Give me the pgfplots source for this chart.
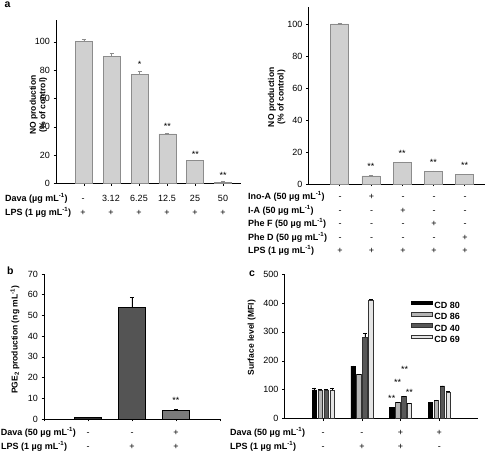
\documentclass[border=0pt]{standalone}
\usepackage{fontspec}
\setmainfont{Liberation Sans}
\usepackage{pgfplots}
\pgfplotsset{compat=1.18}
\definecolor{barA}{HTML}{D0D0D0}
\definecolor{edgeA}{HTML}{8C8C8C}
\definecolor{pgA}{HTML}{2E2E2E}
\definecolor{pgB}{HTML}{545454}
\definecolor{pgC}{HTML}{7A7A7A}
\definecolor{cdB}{HTML}{B4B4B4}
\definecolor{cdC}{HTML}{585858}
\definecolor{cdD}{HTML}{E4E4E4}
\newcommand\tf{\fontsize{9}{10}\selectfont}
\newcommand\bff{\bfseries\fontsize{9}{10}\selectfont}
\newcommand\um{\textmu g mL\textsuperscript{-1}}
\pgfplotsset{
  common/.style={
    scale only axis,
    axis x line=bottom, axis y line=left,
    axis line style={-, line width=0.7pt},
    tick align=outside,
    major tick length=2.5pt,
    tick style={line width=0.6pt, black},
    ymin=0, xmin=0,
    enlargelimits=false,
    tick label style={font=\tf},
    /pgf/number format/assume math mode=true,
    ylabel style={font=\bfseries\fontsize{8.5}{9.5}\selectfont, align=center, anchor=center},
    clip=false,
    ybar,
    xticklabel={\empty},
  }
}
\begin{document}
\begin{tikzpicture}[x=1pt,y=1pt]
\path[use as bounding box] (0,0) rectangle (487,455);

% ---------- panel a, left ----------
\begin{axis}[common, at={(56pt,271.5pt)}, anchor=south west,
  width=185pt, height=163.5pt, xmax=6.64, ymax=115.4,
  xtick={1,...,6}, ytick={0,20,...,100},
  ylabel={NO production\\(\% of control)},
  ylabel style={at={(axis description cs:-0.095,0.48)}}]
\addplot[bar width=17pt, fill=barA, draw=edgeA, line width=0.8pt,
  error bars/.cd, y dir=plus, y explicit, error bar style={edgeA, line width=0.7pt}]
  coordinates {(1,100) +- (0,1.5) (2,89.5) +- (0,2.5) (3,77) +- (0,2.5)
               (4,35) +- (0,0.7) (5,16) +- (0,0.5) (6,1.0) +- (0,0.3)};
\node[anchor=base, font=\tf, yshift=3pt] at (axis cs:3,79.5) {*};
\node[anchor=base, font=\tf, yshift=3pt] at (axis cs:4,35.7) {**};
\node[anchor=base, font=\tf, yshift=3pt] at (axis cs:5,16.5) {**};
\node[anchor=base, font=\tf, yshift=3pt] at (axis cs:6,1.3) {**};
\end{axis}

% ---------- panel a, right ----------
\begin{axis}[common, at={(308.5pt,271pt)}, anchor=south west,
  width=176.5pt, height=177pt, xmax=5.65, ymax=110.6,
  xtick={1,...,5}, ytick={0,20,...,100},
  ylabel={NO production\\(\% of control)},
  ylabel style={at={(axis description cs:-0.18,0.49)}}]
\addplot[bar width=18pt, fill=barA, draw=edgeA, line width=0.8pt,
  error bars/.cd, y dir=plus, y explicit, error bar style={edgeA, line width=0.7pt}]
  coordinates {(1,100) +- (0,0.3) (2,5) +- (0,0.2) (3,13.5) +- (0,0.3)
               (4,8) +- (0,0.3) (5,6) +- (0,0.2)};
\node[anchor=base, font=\tf, yshift=6pt] at (axis cs:2,5) {**};
\node[anchor=base, font=\tf, yshift=6pt] at (axis cs:3,13.5) {**};
\node[anchor=base, font=\tf, yshift=6pt] at (axis cs:4,8) {**};
\node[anchor=base, font=\tf, yshift=6pt] at (axis cs:5,6) {**};
\end{axis}

% ---------- panel b ----------
\begin{axis}[common, at={(44pt,36pt)}, anchor=south west,
  width=176pt, height=145pt, xmax=4, ymax=70,
  xtick={0,...,4}, ytick={0,10,...,70},
  ylabel={PGE\textsubscript{2} production (ng mL\textsuperscript{-1})},
  ylabel style={at={(axis description cs:-0.165,0.545)}}]
\addplot[bar width=27pt, bar shift=0pt, fill=pgA, draw=black, line width=0.6pt,
  error bars/.cd, y dir=plus, y explicit, error bar style={black, line width=0.6pt}]
  coordinates {(1,0.8) +- (0,0.1)};
\addplot[bar width=27pt, bar shift=0pt, fill=pgB, draw=black, line width=0.6pt,
  error bars/.cd, y dir=plus, y explicit, error bar style={black, line width=0.6pt}]
  coordinates {(2,54) +- (0,4.7)};
\addplot[bar width=27pt, bar shift=0pt, fill=pgC, draw=black, line width=0.6pt,
  error bars/.cd, y dir=plus, y explicit, error bar style={black, line width=0.6pt}]
  coordinates {(3,4.4) +- (0,0.5)};
\node[anchor=base, font=\tf, yshift=5.4pt] at (axis cs:3,4.9) {**};
\end{axis}

% ---------- panel c ----------
\begin{axis}[common, at={(284.5pt,36.3pt)}, anchor=south west,
  width=193.5pt, height=144.7pt, xmax=5, ymax=500,
  ybar=1.4pt, bar width=4.5pt,
  xtick={1,...,4}, ytick={0,100,...,500},
  ylabel={Surface level (MFI)},
  ylabel style={at={(axis description cs:-0.17,0.56)}},
  legend style={draw=none, fill=none, at={(0.655,0.815)}, anchor=north west,
    font=\bff, row sep=2.4pt, inner sep=0pt,
    nodes={inner ysep=1pt, inner xsep=1.5pt, text height=6.5pt, text depth=0pt}},
  legend cell align=left,
  legend image code/.code={\draw[#1] (0pt,0.8pt) rectangle (21pt,4.3pt);},
  error bars/y dir=plus, error bars/y explicit,
  error bars/error bar style={black, line width=0.5pt}]
\addplot[fill=black, draw=black, line width=0.5pt]
  coordinates {(1,100) +- (0,7) (2,182) +- (0,1) (3,39) +- (0,1) (4,57) +- (0,1)};
\addplot[fill=cdB, draw=black!80, line width=0.5pt]
  coordinates {(1,100) +- (0,2) (2,153) +- (0,1) (3,57) +- (0,1) (4,64) +- (0,1)};
\addplot[fill=cdC, draw=black!80, line width=0.5pt]
  coordinates {(1,100) +- (0,2) (2,281) +- (0,13) (3,78) +- (0,1) (4,113) +- (0,1)};
\addplot[fill=cdD, draw=black!80, line width=0.5pt]
  coordinates {(1,100) +- (0,7) (2,410) +- (0,2) (3,53) +- (0,1) (4,93) +- (0,1)};
\legend{CD 80, CD 86, CD 40, CD 69}
\node[anchor=base, font=\tf, yshift=-5.2pt, xshift=-8.85pt] at (axis cs:3,76) {**};
\node[anchor=base, font=\tf, yshift=-5.2pt, xshift=-2.95pt] at (axis cs:3,131) {**};
\node[anchor=base, font=\tf, yshift=-5.2pt, xshift=4pt] at (axis cs:3,176) {**};
\node[anchor=base, font=\tf, yshift=-5.2pt, xshift=8.85pt] at (axis cs:3,99) {**};
\end{axis}

% ---------- panel letters ----------
\node[anchor=base west, inner sep=0pt, font=\bfseries\fontsize{10.5}{12}\selectfont] at (4.5pt,447pt) {a};
\node[anchor=base west, inner sep=0pt, font=\bfseries\fontsize{10.5}{12}\selectfont] at (7pt,180pt) {b};
\node[anchor=base west, inner sep=0pt, font=\bfseries\fontsize{10.5}{12}\selectfont] at (249pt,178pt) {c};

% ---------- row labels, panel a left ----------
\node[anchor=base west, inner sep=0pt, font=\bff] at (5pt,253.8pt) {Dava (\um)};
\node[anchor=base west, inner sep=0pt, font=\bff] at (5pt,239.8pt) {LPS (1 \um)};
\foreach \x/\s in {83/-,111/3.12,139/6.25,167/12.5,195/25,223/50}
  \node[anchor=base, inner sep=0pt, font=\tf] at (\x pt,253.8pt) {\s};
\foreach \x in {83,111,139,167,195,223}
  \node[anchor=base, inner sep=0pt, font=\tf] at (\x pt,239.8pt) {+};

% ---------- row labels, panel a right ----------
\node[anchor=base west, inner sep=0pt, font=\bff] at (248pt,255.3pt) {Ino-A (50 \um)};
\node[anchor=base west, inner sep=0pt, font=\bff] at (248pt,241.8pt) {I-A (50 \um)};
\node[anchor=base west, inner sep=0pt, font=\bff] at (248pt,228.3pt) {Phe F (50 \um)};
\node[anchor=base west, inner sep=0pt, font=\bff] at (248pt,214.8pt) {Phe D (50 \um)};
\node[anchor=base west, inner sep=0pt, font=\bff] at (248pt,201.3pt) {LPS (1 \um)};
\foreach \x/\a/\b/\c/\d in {340/-/-/-/-,371.5/+/-/-/-,403/-/+/-/-,434/-/-/+/-,465/-/-/-/+}{
  \node[anchor=base, inner sep=0pt, font=\tf] at (\x pt,255.3pt) {\a};
  \node[anchor=base, inner sep=0pt, font=\tf] at (\x pt,241.8pt) {\b};
  \node[anchor=base, inner sep=0pt, font=\tf] at (\x pt,228.3pt) {\c};
  \node[anchor=base, inner sep=0pt, font=\tf] at (\x pt,214.8pt) {\d};
  \node[anchor=base, inner sep=0pt, font=\tf] at (\x pt,201.3pt) {+};
}

% ---------- row labels, panel b ----------
\node[anchor=base west, inner sep=0pt, font=\bff] at (0.7pt,19.5pt) {Dava (50 \um)};
\node[anchor=base west, inner sep=0pt, font=\bff] at (1pt,5.8pt) {LPS (1 \um)};
\foreach \x/\a/\b in {88/-/-,132/-/+,176/+/+}{
  \node[anchor=base, inner sep=0pt, font=\tf] at (\x pt,19.5pt) {\a};
  \node[anchor=base, inner sep=0pt, font=\tf] at (\x pt,5.8pt) {\b};
}

% ---------- row labels, panel c ----------
\node[anchor=base west, inner sep=0pt, font=\bff] at (230pt,19.5pt) {Dava (50 \um)};
\node[anchor=base west, inner sep=0pt, font=\bff] at (230pt,5.8pt) {LPS (1 \um)};
\foreach \x/\a/\b in {323.2/-/-,361.9/-/+,400.6/+/+,439.3/+/-}{
  \node[anchor=base, inner sep=0pt, font=\tf] at (\x pt,19.5pt) {\a};
  \node[anchor=base, inner sep=0pt, font=\tf] at (\x pt,5.8pt) {\b};
}
\end{tikzpicture}
\end{document}
